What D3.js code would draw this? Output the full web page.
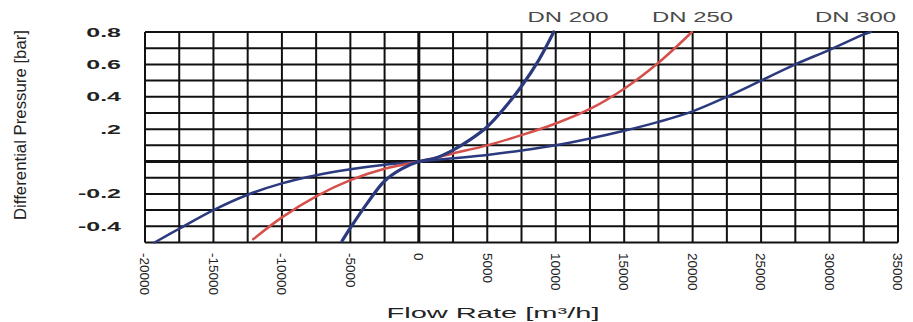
<!DOCTYPE html>
<html>
<head>
<meta charset="utf-8">
<script src="https://cdn.jsdelivr.net/npm/d3@7"></script>
<style>
  html, body { margin: 0; padding: 0; background: #fff; }
  svg { display: block; font-family: "Liberation Sans", Arial, Helvetica, sans-serif; }
</style>
</head>
<body>
<svg id="chart" width="913" height="322"></svg>
<script>
// flow rate [m3/h] and differential pressure [bar]
var flowDN200 = [-5600, -5000, -3750, -2500, -1250, 0, 1250, 2500, 3750, 5000, 6250, 7500, 8750, 9850];
var dpDN200   = [-0.49, -0.41, -0.255, -0.12, -0.045, 0, 0.022, 0.07, 0.135, 0.215, 0.33, 0.465, 0.625, 0.8];

var flowDN250 = [-12100, -10000, -7500, -5000, -2500, 0, 2500, 5000, 7500, 10000, 12500, 15000, 17500, 19950];
var dpDN250   = [-0.48, -0.345, -0.215, -0.115, -0.045, 0, 0.05, 0.1, 0.163, 0.235, 0.325, 0.45, 0.61, 0.8];

var flowDN300 = [-19300, -17500, -15000, -12500, -10000, -7500, -5000, -2500, 0, 2500, 5000, 7500, 10000,
                 12500, 15000, 17500, 20000, 22500, 25000, 27500, 30000, 32500, 33000];
var dpDN300   = [-0.5, -0.415, -0.3, -0.205, -0.135, -0.085, -0.048, -0.02, 0, 0.02, 0.041, 0.068, 0.1,
                 0.142, 0.19, 0.245, 0.31, 0.4, 0.5, 0.6, 0.69, 0.785, 0.8];

var seriesNames = ['DN 200', 'DN 250', 'DN 300'];
var labelFlow = [10900, 20000, 31900];   // where the names sit above the chart
var xTicks = [-20000, -15000, -10000, -5000, 0, 5000, 10000, 15000, 20000, 25000, 30000, 35000];
var yTicks = [0.8, 0.6, 0.4, 0.2, -0.2, -0.4];
var yTickLabels = ['0.8', '0.6', '0.4', '.2', '-0.2', '-0.4'];

var svg = d3.select('#chart');

var x = d3.scaleLinear().domain([-20000, 35000]).range([145, 898]);
var y = d3.scaleLinear().domain([-0.5, 0.8]).range([242.5, 32]);

// grid
var grid = svg.append('g');
grid.selectAll('line.v')
    .data(d3.range(-20000, 35001, 2500))
    .enter().append('line')
    .attr('x1', function(d) { return x(d); })
    .attr('x2', function(d) { return x(d); })
    .attr('y1', y(0.8)).attr('y2', y(-0.5))
    .attr('stroke', '#111')
    .attr('stroke-width', function(d) { return d === 0 ? 3 : 2; });

grid.selectAll('line.h')
    .data(d3.range(-5, 9).map(function(i) { return i / 10; }))
    .enter().append('line')
    .attr('x1', x(-20000)).attr('x2', x(35000))
    .attr('y1', function(d) { return y(d); })
    .attr('y2', function(d) { return y(d); })
    .attr('stroke', '#111')
    .attr('stroke-width', function(d) { return d === 0 ? 3 : 2; });

// curves
var line = d3.line()
    .x(function(d) { return x(d[0]); })
    .y(function(d) { return y(d[1]); })
    .curve(d3.curveCatmullRom.alpha(0.5));

var curves = [
  { flow: flowDN300, dp: dpDN300, color: '#2b3a7e', w: 2.5 },
  { flow: flowDN250, dp: dpDN250, color: '#d5504a', w: 2.5 },
  { flow: flowDN200, dp: dpDN200, color: '#2b3a7e', w: 3.2 }
];

curves.forEach(function(c) {
  svg.append('path')
      .datum(d3.zip(c.flow, c.dp))
      .attr('d', line)
      .attr('fill', 'none')
      .attr('stroke', c.color)
      .attr('stroke-width', c.w)
      .attr('stroke-linecap', 'round');
});

// series names above the chart
svg.selectAll('text.series')
    .data(seriesNames)
    .enter().append('text')
    .attr('x', function(d, i) { return x(labelFlow[i]); })
    .attr('y', 21.5)
    .attr('text-anchor', 'middle')
    .attr('font-size', 14)
    .attr('fill', '#4a4a4a')
    .attr('textLength', 81)
    .attr('lengthAdjust', 'spacingAndGlyphs')
    .text(function(d) { return d; });

// y tick labels (wide lettering)
svg.selectAll('text.ytick')
    .data(yTicks)
    .enter().append('text')
    .attr('transform', function(d) { return 'translate(121,' + (y(d) + 4.5) + ') scale(2,1)'; })
    .attr('text-anchor', 'end')
    .attr('font-size', 12.5)
    .attr('font-weight', 'bold')
    .attr('fill', '#222')
    .text(function(d, i) { return yTickLabels[i]; });

// x tick labels, turned
svg.selectAll('text.xtick')
    .data(xTicks)
    .enter().append('text')
    .attr('transform', function(d) { return 'translate(' + x(d) + ',253) rotate(90)'; })
    .attr('dy', '0.35em')
    .attr('font-size', 13.5)
    .attr('fill', '#222')
    .text(function(d) { return d; });

// axis titles
svg.append('text')
    .attr('transform', 'translate(26,125) rotate(-90)')
    .attr('text-anchor', 'middle')
    .attr('font-size', 17)
    .attr('fill', '#222')
    .attr('textLength', 190)
    .attr('lengthAdjust', 'spacingAndGlyphs')
    .text('Differential Pressure [bar]');

svg.append('text')
    .attr('x', 493).attr('y', 318)
    .attr('text-anchor', 'middle')
    .attr('font-size', 14)
    .attr('fill', '#222')
    .attr('textLength', 213)
    .attr('lengthAdjust', 'spacingAndGlyphs')
    .text('Flow Rate [m³/h]');
</script>
</body>
</html>
